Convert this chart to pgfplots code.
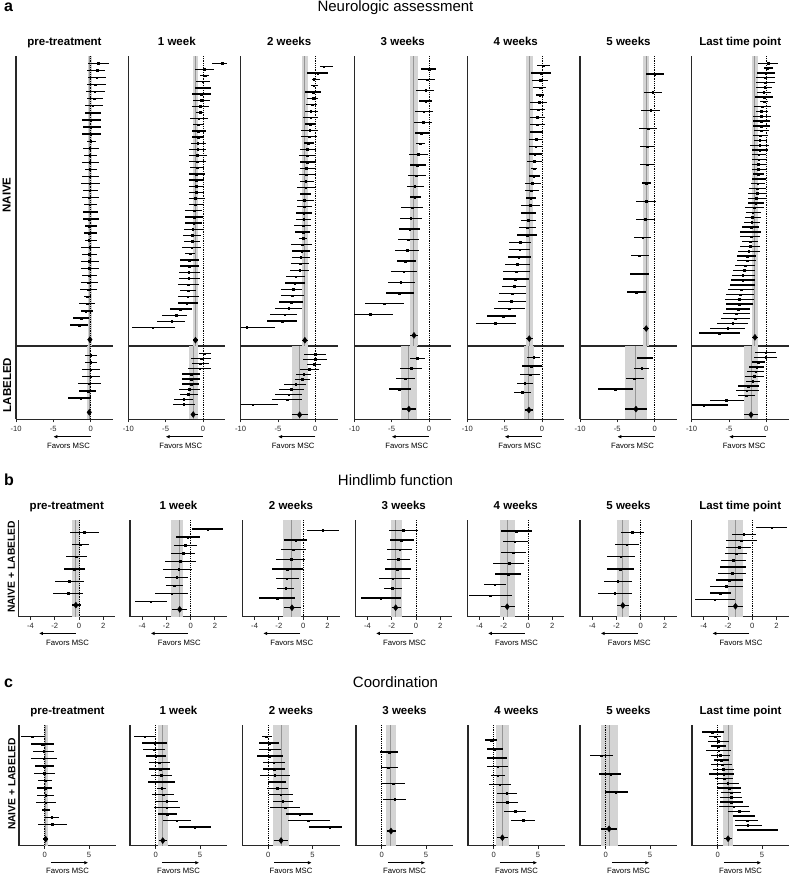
\documentclass[border=0pt]{standalone}
\usepackage{fontspec}
\setmainfont{Liberation Sans}
\usepackage{pgfplots}
\pgfplotsset{compat=1.18}
\usetikzlibrary{arrows.meta}

\definecolor{bandgray}{RGB}{212,212,212}
\definecolor{linegray}{RGB}{150,150,150}
\definecolor{axgray}{RGB}{40,40,40}

\pgfkeys{/fp/.is family, /fp,
  x/.store in=\fpx, y/.store in=\fpy, ht/.store in=\fpht,
  N/.store in=\fpN, yo/.store in=\fpyo, d/.store in=\fpd,
  e/.store in=\fpe, l/.store in=\fpl, h/.store in=\fph,
  dl/.store in=\fpdl, dh/.store in=\fpdh, fav/.store in=\fpfav}

\pgfplotsset{
  fpbase/.style={scale only axis, width=97pt, axis x line*=bottom, axis y line*=left,
    axis line style={line width=1.2pt, axgray}, ytick=\empty, clip=false,
    tick align=outside, major tick length=3pt, tick style={line width=0.8pt, axgray},
    xticklabel style={font=\fontsize{7.6}{8}\selectfont, text=axgray},
    /pgf/number format/assume math mode=true,
    title style={font=\bfseries\fontsize{11.5}{13}\selectfont, at={(0.5,1)}, anchor=base, yshift=5pt}},
  seca/.style={xmin=-10, xmax=3, xtick={-10,-5,0}},
  naive/.style={xtick=\empty},
  secb/.style={xmin=-5, xmax=3, xtick={-4,-2,0,2}},
  secc/.style={xmin=-2.9, xmax=8.05, xtick={0,5}},
  rowsty/.style={only marks, mark=square*, mark size=0.8pt, black,
    error bars/.cd, x dir=both, x explicit, error mark=none,
    error bar style={line width=1.3pt, black}},
}

\newcommand\favfont{\fontsize{7.7}{9}\selectfont}
\newcommand\favA{\draw[-{Latex[length=4pt,width=3.6pt]}, line width=0.8pt] ([yshift=-17.4pt]axis cs:0,-\fpN) -- ([yshift=-17.4pt]axis cs:-5,-\fpN);
  \node[font=\favfont] at ([yshift=-26.4pt]axis cs:-2.97,-\fpN) {Favors MSC};}
\newcommand\favB{\draw[-{Latex[length=4pt,width=3.6pt]}, line width=0.8pt] ([yshift=-16.7pt]axis cs:-0.25,-\fpN) -- ([yshift=-16.7pt]axis cs:-3.3,-\fpN);
  \node[font=\favfont] at ([yshift=-26pt]axis cs:-0.94,-\fpN) {Favors MSC};}
\newcommand\favC{\draw[-{Latex[length=4pt,width=3.6pt]}, line width=0.8pt] ([yshift=-17pt]axis cs:0.71,-\fpN) -- ([yshift=-17pt]axis cs:4.92,-\fpN);
  \node[font=\favfont] at ([yshift=-25pt]axis cs:2.58,-\fpN) {Favors MSC};}

\newcommand\fp[3]{%
  \pgfqkeys{/fp}{yo=1, dl=\fpl, dh=\fph, fav=, #1}%
  \begin{axis}[fpbase, #2, at={(\fpx pt,-\fpy pt)}, anchor=north west, height=\fpht pt, ymin=-\fpN, ymax=0]
    \addplot[fill=bandgray, draw=none] coordinates {(\fpl,0) (\fph,0) (\fph,-\fpN) (\fpl,-\fpN)} -- cycle;
    \addplot[linegray, line width=1pt] coordinates {(\fpe,0) (\fpe,-\fpN)};
    \addplot[black, line width=0.8pt, densely dotted] coordinates {(0,0) (0,-\fpN)};
    \addplot[rowsty] table[row sep=\\, x=e, y expr=-\coordindex-\fpyo,
      x error minus expr=\thisrow{e}-\thisrow{l}, x error plus expr=\thisrow{h}-\thisrow{e}] {#3};
    \addplot[black, line width=1.4pt] coordinates {(\fpdl,-\fpd) (\fpdh,-\fpd)};
    \addplot[only marks, mark=diamond*, mark size=3pt, black] coordinates {(\fpe,-\fpd)};
    \fpfav
  \end{axis}}

\begin{document}
\begin{tikzpicture}
\path[use as bounding box] (0,0) rectangle (790pt,-876pt);

% ---------------- section a ----------------
\node[font=\bfseries\fontsize{16}{18}\selectfont, anchor=base west] at (0.5pt,-11.7pt) {a};
\node[font=\fontsize{15}{18}\selectfont, anchor=base] at (395.5pt,-11.7pt) {Neurologic assessment};
\node[rotate=90, anchor=base, font=\bfseries\fontsize{11.5}{13}\selectfont] at (10.5pt,-195pt) {NAIVE};
\node[rotate=90, anchor=base, font=\bfseries\fontsize{11.5}{13}\selectfont] at (11pt,-385pt) {LABELED};

% pre-treatment
\fp{x=16, y=56, ht=290, N=41.0, yo=1.04, d=40.1, e=-0.1, l=-0.35, h=0.2}{seca, naive, title={pre-treatment}}{
e l h\\
1.0 -0.4 2.5\\ 0.9 -0.45 1.9\\ 0.8 -0.35 2.0\\ 0.6 -0.55 2.05\\ 0.55 -0.6 1.9\\ 0.45 -0.55 1.7\\
0.3 -0.8 1.6\\ 0.3 -0.7 1.45\\ 0 -1.1 1.35\\ 0 -1.0 1.35\\ 0 -1.1 1.35\\ 0 -0.55 0.7\\
-0.1 -1.0 1.15\\ -0.1 -0.9 0.9\\ -0.1 -1.1 1.15\\ -0.1 -0.8 0.8\\ -0.1 -1.1 1.1\\ -0.1 -1.25 1.25\\
-0.1 -1.0 1.0\\ -0.2 -1.1 1.1\\ -0.1 -0.9 0.8\\ -0.1 -1.0 1.0\\ -0.2 -1.0 1.1\\ -0.2 -0.8 0.9\\
-0.2 -0.9 0.9\\ -0.25 -0.8 0.8\\ -0.1 -1.35 1.25\\ -0.2 -1.15 0.9\\ -0.2 -1.35 1.15\\ -0.2 -1.35 1.1\\
-0.25 -1.15 0.9\\ -0.35 -1.35 1.0\\ -0.35 -1.45 0.8\\ -0.45 -0.9 0.1\\ -0.45 -1.55 0.65\\ -0.65 -1.35 0.35\\
-1.25 -2.35 -0.25\\ -1.55 -2.7 -0.35\\}
\fp{x=16, y=346, ht=73.3, N=10.28, yo=1.3, d=9.3, e=-0.18, l=-0.55, h=0.1, fav=\favA}{seca}{
e l h\\
0 -0.8 0.9\\ 0 -0.8 0.9\\ 0 -1.2 1.2\\ 0 -1.2 1.2\\ -0.2 -1.7 1.35\\ -0.35 -1.5 0.7\\ -1.35 -3.0 0.1\\}

% 1 week
\fp{x=128.3, y=56, ht=290, N=47.2, yo=1.19, d=46.25, e=-1.0, l=-1.35, h=-0.65}{seca, naive, title={1 week}}{
e l h\\
2.55 1.25 3.25\\ 0.2 -1.0 1.45\\ 0.3 -0.35 0.8\\ -0.05 -0.9 0.9\\ -0.05 -1.0 1.1\\ -0.2 -1.45 1.15\\
-0.2 -1.35 1.0\\ -0.35 -1.5 0.8\\ -0.35 -0.9 0.1\\ -0.55 -1.7 0.65\\ -0.6 -1.35 0.2\\ -0.65 -1.5 0.35\\
-0.65 -1.5 0.2\\ -0.7 -1.6 0.35\\ -0.7 -1.9 0.45\\ -0.8 -1.9 0.55\\ -0.8 -1.8 0.35\\ -0.8 -1.7 0.2\\
-0.9 -1.9 0.25\\ -0.9 -1.9 0.2\\ -0.9 -1.9 0.2\\ -0.9 -1.8 0.1\\ -1.0 -1.9 0.25\\ -1.0 -1.9 0.1\\
-1.15 -2.35 -0.1\\ -1.15 -2.35 0\\ -1.25 -2.35 -0.1\\ -1.35 -2.6 0.1\\ -1.45 -2.7 -0.25\\ -1.45 -2.6 -0.35\\
-1.5 -2.85 -0.25\\ -1.7 -2.35 -1.0\\ -1.8 -3.05 -0.55\\ -1.8 -3.05 -0.55\\ -1.9 -3.15 -0.45\\ -1.9 -3.25 -0.45\\
-2.0 -3.3 -0.55\\ -2.0 -3.05 -0.9\\ -2.05 -3.4 -0.55\\ -2.15 -3.4 -0.7\\ -3.05 -4.4 -1.5\\ -3.6 -5.45 -2.15\\
-4.2 -6.2 -2.35\\ -6.75 -9.55 -3.75\\}
\fp{x=128.3, y=346, ht=73.3, N=14.44, yo=1.5, d=13.5, e=-1.3, l=-1.9, h=-0.7, dl=-1.6, dh=-0.7, fav=\favA}{seca}{
e l h\\
0.2 -0.55 1.15\\ -0.2 -1.6 1.15\\ -0.35 -1.5 0.8\\ -0.45 -1.95 1.15\\ -1.6 -2.85 -0.45\\ -1.6 -2.85 -0.45\\
-1.6 -2.8 -0.55\\ -1.8 -3.25 -0.45\\ -1.95 -3.05 -0.65\\ -2.6 -3.85 -1.35\\ -2.6 -4.05 -1.1\\}

% 2 weeks
\fp{x=240.7, y=56, ht=290, N=45.6, yo=1.68, d=44.7, e=-1.4, l=-1.75, h=-1.0}{seca, naive, title={2 weeks}}{
e l h\\
1.1 0.6 2.4\\ 0.3 -1.05 1.75\\ -0.2 -0.5 0.65\\ -0.2 -0.6 0.4\\ -0.3 -1.4 0.75\\ -0.3 -1.1 0.4\\
-0.4 -1.2 0.2\\ -0.6 -1.4 0.3\\ -0.6 -1.65 0.4\\ -0.65 -1.4 0.15\\ -0.75 -1.95 0.3\\ -0.85 -1.95 0.2\\
-0.95 -1.55 -0.2\\ -1.05 -2.1 0.05\\ -1.1 -2.2 -0.05\\ -1.1 -2.1 0.05\\ -1.2 -2.1 -0.05\\ -1.2 -2.2 0.05\\
-1.3 -2.1 -0.15\\ -1.3 -2.4 -0.05\\ -1.4 -2.1 -0.6\\ -1.5 -2.45 -0.2\\ -1.5 -2.45 -0.5\\ -1.55 -2.65 -0.5\\
-1.55 -2.55 -0.6\\ -1.65 -2.85 -0.6\\ -1.65 -2.75 -0.65\\ -1.65 -2.2 -1.05\\ -1.75 -3.25 -0.4\\ -1.85 -3.1 -0.65\\
-1.95 -3.1 -0.65\\ -2.0 -3.25 -0.85\\ -2.1 -3.35 -0.85\\ -2.65 -3.9 -1.4\\ -2.75 -4.0 -1.4\\ -3.0 -4.6 -1.75\\
-3.1 -4.6 -1.55\\ -3.25 -4.9 -1.65\\ -3.55 -5.45 -1.75\\ -4.1 -6.05 -2.45\\ -4.45 -6.5 -2.4\\ -9.2 -10 -5.35\\}
\fp{x=240.7, y=346, ht=73.3, N=14.6, yo=1.66, d=13.7, e=-2.1, l=-3.15, h=-0.95, fav=\favA}{seca}{
e l h\\
0 -1.55 1.4\\ 0 -1.65 1.5\\ -0.15 -1.05 0.75\\ -0.85 -2.0 0.5\\ -1.55 -2.55 -0.6\\ -1.75 -2.75 -0.75\\
-2.65 -4.15 -1.3\\ -3.25 -4.9 -1.55\\ -3.55 -5.35 -1.75\\ -3.8 -5.8 -1.85\\ -8.4 -10 -5.05\\}

% 3 weeks
\fp{x=354.3, y=56, ht=290, N=27.2, yo=1.22, d=26.2, e=-2.0, l=-2.5, h=-1.45}{seca, naive, title={3 weeks}}{
e l h\\
0 -1.1 1.0\\ -0.25 -1.5 0.8\\ -0.45 -1.7 0.7\\ -0.45 -1.35 0.35\\ -0.7 -1.9 0.55\\ -0.8 -2.0 0.45\\
-1.0 -1.8 0\\ -1.15 -1.7 -0.55\\ -1.45 -2.7 -0.1\\ -1.6 -2.6 -0.45\\ -1.7 -2.8 -0.45\\ -1.9 -2.9 -0.7\\
-1.9 -2.5 -1.1\\ -2.25 -3.7 -0.8\\ -2.45 -3.85 -0.9\\ -2.6 -3.95 -1.15\\ -2.8 -4.15 -1.35\\ -2.9 -4.5 -1.35\\
-3.15 -4.3 -1.7\\ -3.4 -5.05 -1.6\\ -3.8 -5.5 -1.9\\ -3.95 -5.75 -2.0\\ -6.0 -8.55 -3.4\\ -7.9 -10 -4.85\\}
\fp{x=354.3, y=346, ht=73.3, N=7.16, yo=1.19, d=6.16, e=-2.68, l=-3.75, h=-1.6, dl=-3.6, dh=-1.7, fav=\favA}{seca}{
e l h\\
-1.6 -2.6 -0.55\\ -2.4 -3.85 -0.95\\ -3.2 -4.45 -1.9\\ -3.95 -5.35 -2.4\\}

% 4 weeks
\fp{x=467.3, y=56, ht=290, N=39.4, yo=1.31, d=38.4, e=-1.7, l=-2.2, h=-1.2}{seca, naive, title={4 weeks}}{
e l h\\
0.2 -0.6 1.1\\ -0.1 -1.4 1.2\\ -0.2 -1.3 0.85\\ -0.2 -1.2 0.6\\ -0.3 -0.85 0.3\\ -0.4 -1.55 0.65\\
-0.5 -1.55 0.4\\ -0.6 -1.65 0.4\\ -0.65 -1.65 0.4\\ -0.75 -1.65 0.2\\ -0.75 -1.75 0.15\\ -0.85 -1.75 0.05\\
-0.95 -1.75 0.05\\ -1.05 -1.95 0.05\\ -1.05 -1.5 -0.65\\ -1.1 -1.75 -0.3\\ -1.3 -2.3 -0.15\\ -1.4 -2.3 -0.4\\
-1.5 -2.1 -0.85\\ -1.55 -2.75 -0.3\\ -1.75 -2.85 -0.85\\ -1.85 -2.75 -0.85\\ -2.0 -3.1 -0.85\\ -2.0 -3.35 -0.65\\
-2.9 -4.35 -1.5\\ -3.0 -4.45 -1.55\\ -3.1 -4.6 -1.5\\ -3.35 -5.0 -1.65\\ -3.45 -5.25 -1.55\\ -3.55 -5.25 -1.75\\
-3.7 -5.35 -2.1\\ -4.0 -5.7 -2.2\\ -4.1 -5.95 -2.2\\ -4.35 -6.4 -2.3\\ -5.15 -7.4 -3.45\\ -6.25 -8.9 -3.45\\}
\fp{x=467.3, y=346, ht=73.3, N=8.38, yo=1.28, d=7.32, e=-1.74, l=-2.4, h=-1.12, dl=-2.28, dh=-1.16, fav=\favA}{seca}{
e l h\\
-1.1 -1.95 -0.2\\ -1.45 -2.65 0\\ -1.6 -2.95 -0.25\\ -2.3 -3.3 -1.15\\ -2.65 -3.75 -1.45\\}

% 5 weeks
\fp{x=580, y=56, ht=290, N=15.96, yo=0.99, d=15.0, e=-1.13, l=-1.53, h=-0.72}{seca, naive, title={5 weeks}}{
e l h\\
0 -1.15 1.25\\ -0.25 -1.45 1.0\\ -0.55 -1.8 0.7\\ -0.9 -2.15 0.35\\ -1.0 -1.9 0.1\\ -1.0 -1.9 0\\
-1.15 -1.7 -0.55\\ -1.15 -2.45 0.2\\ -1.25 -2.5 0.1\\ -1.6 -2.7 -0.55\\ -2.05 -3.15 -0.8\\ -2.05 -3.25 -0.8\\
-2.45 -3.7 -1.15\\}
\fp{x=580, y=346, ht=73.3, N=7.09, yo=1.15, d=6.1, e=-2.5, l=-3.93, h=-0.98, fav=\favA}{seca}{
e l h\\
-1.2 -2.3 -0.2\\ -1.75 -2.7 -0.7\\ -2.7 -3.85 -1.45\\ -5.25 -7.6 -2.9\\}

% Last time point
\fp{x=691.7, y=56, ht=290, N=60.2, yo=1.51, d=58.4, e=-1.52, l=-1.9, h=-1.15}{seca, naive, title={Last time point}}{
e l h\\
0.25 -1.1 1.6\\ 0.2 -0.35 0.9\\ -0.1 -1.25 1.15\\ -0.2 -1.45 1.15\\ -0.2 -1.45 1.1\\ -0.2 -1.35 0.8\\
-0.35 -1.25 0.65\\ -0.25 -1.5 0.9\\ -0.25 -0.8 0.25\\ -0.55 -1.6 0.65\\ -0.65 -1.45 0.25\\ -0.65 -1.8 0.65\\
-0.7 -1.8 0.45\\ -0.7 -1.8 0.45\\ -0.7 -1.7 0.35\\ -0.8 -1.8 0.2\\ -0.9 -1.7 0.1\\ -0.9 -2.25 0.35\\
-0.9 -1.95 0.2\\ -1.0 -1.95 0\\ -1.0 -1.95 0.1\\ -1.1 -1.95 0.1\\ -1.1 -1.9 -0.1\\ -1.1 -1.8 -0.25\\
-1.15 -1.95 -0.1\\ -1.15 -2.05 -0.2\\ -1.25 -2.35 -0.1\\ -1.25 -2.4 0.1\\ -1.35 -2.5 0\\ -1.45 -2.4 -0.35\\
-1.6 -2.85 -0.25\\ -1.8 -2.7 -0.65\\ -1.9 -2.85 -0.7\\ -1.95 -3.05 -0.8\\ -2.05 -3.25 -1.0\\ -2.05 -3.5 -0.7\\
-2.05 -3.5 -0.8\\ -2.15 -3.3 -1.1\\ -2.15 -3.5 -0.9\\ -2.35 -3.75 -0.9\\ -2.6 -3.95 -1.35\\ -2.6 -3.95 -1.45\\
-2.8 -4.15 -1.5\\ -2.95 -4.4 -1.5\\ -3.15 -4.55 -1.5\\ -3.15 -4.75 -1.5\\ -3.25 -4.85 -1.5\\ -3.4 -5.1 -1.6\\
-3.5 -5.4 -1.6\\ -3.6 -5.55 -1.7\\ -3.6 -5.45 -1.8\\ -3.75 -5.4 -2.15\\ -4.05 -5.85 -2.25\\ -4.2 -6.1 -2.25\\
-4.5 -6.55 -2.4\\ -5.2 -7.55 -2.85\\ -6.3 -9.05 -3.5\\}
\fp{x=691.7, y=346, ht=73.3, N=15.36, yo=1.38, d=14.4, e=-2.05, l=-3.04, h=-1.07, dl=-2.95, fav=\favA}{seca}{
e l h\\
-0.1 -1.5 1.35\\ -0.1 -1.7 1.45\\ -1.05 -1.95 -0.2\\ -1.3 -2.3 -0.25\\ -1.45 -2.6 -0.25\\ -1.65 -2.85 -0.25\\
-1.8 -2.75 -0.8\\ -2.4 -3.8 -1.0\\ -2.65 -4.1 -1.0\\ -2.7 -3.85 -1.5\\ -5.35 -7.6 -3.05\\ -8.4 -9.95 -5.1\\}

% ---------------- section b ----------------
\node[font=\bfseries\fontsize{16}{18}\selectfont, anchor=base west] at (0.5pt,-485pt) {b};
\node[font=\fontsize{15}{18}\selectfont, anchor=base] at (395.5pt,-485pt) {Hindlimb function};
\node[rotate=90, anchor=base, font=\bfseries\fontsize{10.3}{12}\selectfont] at (15pt,-567pt) {NAIVE + LABELED};

\fp{x=18.3, y=520, ht=96.7, N=7.92, yo=1.01, d=6.97, e=-0.25, l=-0.6, h=0.1, dl=-0.55, dh=0.2, fav=\favB}{secb, title={pre-treatment}}{
e l h\\
0.45 -0.75 1.65\\ 0.1 -0.55 0.8\\ -0.2 -1.1 0.7\\ -0.4 -1.25 0.5\\ -0.8 -2.0 0.4\\ -0.9 -2.15 0.35\\}
\fp{x=130, y=520, ht=96.7, N=11.98, yo=1.12, d=11.07, e=-0.9, l=-1.6, h=-0.6, dl=-1.55, dh=-0.3, fav=\favB}{secb, title={1 week}}{
e l h\\
1.4 0.1 2.7\\ -0.25 -1.2 0.8\\ -0.45 -1.4 0.55\\ -0.6 -1.6 0.4\\ -0.85 -2.1 0.45\\ -1.0 -2.25 0.1\\
-1.15 -2.15 -0.2\\ -1.35 -2.05 -0.6\\ -1.55 -2.9 -0.2\\ -3.3 -4.6 -1.95\\}
\fp{x=242.5, y=520, ht=96.7, N=10, yo=1.07, d=9.07, e=-0.92, l=-1.65, h=-0.15, dl=-1.58, dh=-0.2, fav=\favB}{secb, title={2 weeks}}{
e l h\\
1.6 0.3 2.95\\ -0.6 -1.6 0.35\\ -0.8 -1.8 0.2\\ -1.0 -2.2 0.15\\ -1.3 -2.6 -0.05\\ -1.35 -2.25 -0.35\\
-1.45 -2.15 -0.75\\ -2.15 -3.6 -0.65\\}
\fp{x=355.3, y=520, ht=96.7, N=10, yo=1.07, d=9.07, e=-1.67, l=-2.08, h=-1.17, dl=-2.0, dh=-1.25, fav=\favB}{secb, title={3 weeks}}{
e l h\\
-1.05 -2.25 0.2\\ -1.2 -2.15 -0.15\\ -1.35 -2.35 -0.3\\ -1.45 -2.4 -0.45\\ -1.55 -2.55 -0.4\\ -1.9 -3.05 -0.5\\
-1.95 -2.6 -1.15\\ -2.9 -4.5 -1.25\\}
\fp{x=467.3, y=520, ht=96.7, N=8.98, yo=1.02, d=8.05, e=-1.71, l=-2.29, h=-1.08, dl=-2.25, dh=-1.1, fav=\favB}{secb, title={4 weeks}}{
e l h\\
-0.95 -2.2 0.35\\ -1.1 -2.05 0\\ -1.2 -2.25 -0.15\\ -1.55 -2.85 -0.3\\ -1.65 -2.7 -0.6\\ -2.75 -3.6 -1.8\\
-3.1 -4.85 -1.35\\}
\fp{x=580, y=520, ht=96.7, N=7.92, yo=1.01, d=7.0, e=-1.47, l=-1.93, h=-0.98, fav=\favB}{secb, title={5 weeks}}{
e l h\\
-0.7 -1.65 0.3\\ -1.15 -2.15 -0.1\\ -1.65 -2.75 -0.5\\ -1.7 -2.8 -0.55\\ -1.9 -3.05 -0.75\\ -2.15 -3.55 -0.75\\}
\fp{x=691.7, y=520, ht=96.7, N=14.8, yo=1.17, d=13.2, e=-1.39, l=-2.04, h=-0.74, dl=-1.99, dh=-0.79, fav=\favB}{secb, title={Last time point}}{
e l h\\
1.6 0.3 2.9\\ -0.7 -1.65 0.3\\ -0.9 -2.15 0.35\\ -1.1 -2.15 -0.1\\ -1.35 -2.25 -0.4\\ -1.6 -2.6 -0.55\\
-1.6 -2.7 -0.5\\ -1.65 -2.8 -0.5\\ -1.9 -3.0 -0.75\\ -2.15 -3.5 -0.75\\ -2.65 -3.5 -1.75\\ -3.1 -4.75 -1.4\\}

% ---------------- section c ----------------
\node[font=\bfseries\fontsize{16}{18}\selectfont, anchor=base west] at (0.5pt,-687.7pt) {c};
\node[font=\fontsize{15}{18}\selectfont, anchor=base] at (395.5pt,-687.7pt) {Coordination};
\node[rotate=90, anchor=base, font=\bfseries\fontsize{10.3}{12}\selectfont] at (15.5pt,-784pt) {NAIVE + LABELED};

\fp{x=19, y=725, ht=120.7, N=16.5, yo=1.6, d=15.6, e=0.11, l=-0.11, h=0.34, dl=-0.23, dh=0.41, fav=\favC}{secc, title={pre-treatment}}{
e l h\\
-1.4 -2.65 -0.1\\ -0.25 -1.5 1.0\\ -0.1 -1.3 1.1\\ -0.1 -1.6 1.35\\ -0.05 -1.15 1.0\\ -0.05 -1.25 1.15\\
0.05 -0.75 0.85\\ 0.05 -0.85 0.85\\ 0.1 -0.85 1.05\\ 0.1 -0.95 1.3\\ 0.1 -0.25 0.65\\ 0.8 -0.05 1.65\\
0.85 -0.7 2.5\\}
\fp{x=130, y=725, ht=120.7, N=18.7, yo=1.81, d=17.9, e=0.8, l=0.26, h=1.43, dl=0.38, dh=1.32, fav=\favC}{secc, title={1 week}}{
e l h\\
-1.25 -2.45 0\\ -0.1 -1.6 1.3\\ -0.15 -1.4 1.05\\ 0 -1.05 1.15\\ 0.4 -0.75 1.6\\ 0.5 -0.7 1.6\\
0.65 -0.55 1.8\\ 0.65 -0.9 2.2\\ 0.7 0.2 1.15\\ 0.85 -0.4 2.05\\ 1.25 0 2.55\\ 1.25 -0.15 2.8\\
1.3 0.3 2.4\\ 2.35 0.85 4.0\\ 4.4 2.65 6.2\\}
\fp{x=242.5, y=725, ht=120.7, N=18.7, yo=1.81, d=17.9, e=1.45, l=0.53, h=2.37, dl=0.61, dh=2.29, fav=\favC}{secc, title={2 weeks}}{
e l h\\
-0.25 -0.75 0.45\\ 0.1 -1.05 1.2\\ 0.1 -1.05 1.4\\ 0.1 -1.3 1.7\\ 0.6 -0.6 1.85\\ 0.65 -0.55 1.9\\
0.75 -0.9 2.45\\ 1.05 0 2.05\\ 1.05 -0.15 2.25\\ 1.4 0.1 2.75\\ 1.65 0.55 2.75\\ 1.95 0.25 3.6\\
3.55 2.0 5.1\\ 4.55 2.2 6.95\\ 6.95 4.65 8.3\\}
\fp{x=356, y=725, ht=120.7, N=7.65, yo=1.71, d=6.72, e=1.05, l=0.45, h=1.65, dl=0.64, dh=1.58, fav=\favC}{secc, title={3 weeks}}{
e l h\\
0.85 -0.2 1.8\\ 0.75 -0.1 1.85\\ 1.3 0 2.6\\ 1.45 0.15 2.8\\}
\fp{x=468, y=725, ht=120.7, N=13.56, yo=1.69, d=12.66, e=0.98, l=0.26, h=1.73, dl=0.41, dh=1.65, fav=\favC}{secc, title={4 weeks}}{
e l h\\
-0.25 -0.95 0.4\\ 0.1 -0.7 1.0\\ 0.3 -0.8 1.45\\ 0.45 -0.7 1.65\\ 0.45 -0.3 1.3\\ 0.7 -0.55 1.9\\
1.45 0.4 2.6\\ 1.5 0.3 2.8\\ 2.45 1.15 3.7\\ 3.3 2.0 4.7\\}
\fp{x=580, y=725, ht=120.7, N=6.64, yo=1.69, d=5.71, e=0.38, l=-0.56, h=1.39, dl=-0.53, dh=1.32, fav=\favC}{secc, title={5 weeks}}{
e l h\\
-0.5 -1.75 0.8\\ 0.55 -0.7 1.75\\ 1.15 -0.1 2.5\\}
\fp{x=692, y=725, ht=120.7, N=25.9, yo=1.5, d=24.4, e=1.17, l=0.61, h=1.74, dl=0.72, dh=1.67, fav=\favC}{secc, title={Last time point}}{
e l h\\
-0.6 -1.8 0.75\\ -0.3 -1.0 0.35\\ 0.05 -1.1 1.25\\ 0.1 -0.75 0.95\\ 0.1 -1.35 1.55\\ 0.25 -0.8 1.35\\
0.4 -0.4 1.3\\ 0.5 -0.7 1.65\\ 0.6 -0.55 1.8\\ 0.7 -0.95 1.85\\ 0.75 -0.25 1.75\\ 1.15 -0.05 2.4\\
1.3 -0.05 2.6\\ 1.5 0.4 2.6\\ 1.5 0.25 2.75\\ 1.55 0.25 2.8\\ 1.8 0.2 3.5\\ 2.4 1.15 3.65\\
3.0 1.75 4.25\\ 3.35 2.0 4.6\\ 3.4 1.95 5.0\\ 4.45 2.15 6.8\\}

\end{tikzpicture}
\end{document}
